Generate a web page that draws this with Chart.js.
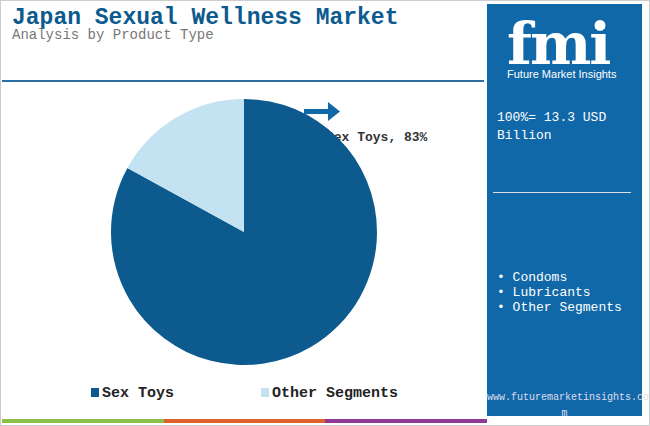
<!DOCTYPE html>
<html><head><meta charset="utf-8">
<script src="https://cdn.jsdelivr.net/npm/chart.js@4"></script>
<style>
body{margin:0;width:650px;height:426px;position:relative;background:#fff;font-family:"Liberation Mono",monospace;overflow:hidden}
.frame{position:absolute;left:0;top:0;width:648px;height:424px;border:1px solid #ccc}
.title{position:absolute;left:12px;top:5px;font-size:23px;font-weight:bold;color:#0c5a8e}
.sub{position:absolute;left:12px;top:27px;font-size:14px;color:#777}
.hr{position:absolute;left:2px;top:80px;width:482px;height:2px;background:#2d6ea3}
.panel{position:absolute;left:487px;top:4px;width:155px;height:412px;background:#1168a8;color:#fff}
.fmi{position:absolute;left:20px;top:6px;font-family:"DejaVu Serif",serif;font-size:58px;font-weight:bold;letter-spacing:-2px}
.fmis{position:absolute;left:20px;top:64px;font-family:"Liberation Sans";font-size:11px}
.p1{position:absolute;left:10px;top:105px;font-size:13px;line-height:18px}
.phr{position:absolute;left:6px;top:188px;width:138px;height:1px;background:#ddd}
.p2{position:absolute;left:10px;top:266px;font-size:13px;line-height:15px}
.url{position:absolute;left:0;top:386px;width:155px;text-align:center;font-size:10px;line-height:16px;color:#dde}
.lbl{position:absolute;left:326px;top:130px;font-size:13px;font-weight:bold;color:#333}
.arrow{position:absolute;left:304px;top:102px}
#wrap{position:absolute;left:104px;top:92px;width:280px;height:280px}
.leg{position:absolute;top:385px;font-size:15px;font-weight:bold;color:#222}
.sw{display:inline-block;width:8px;height:9px;margin-right:3px}
.bar{position:absolute;top:419px;height:4px}
</style></head><body>
<div class="frame"></div>
<div class="title">Japan Sexual Wellness Market</div>
<div class="sub">Analysis by Product Type</div>
<div class="hr"></div>
<div class="lbl">Sex Toys, 83%</div>
<svg class="arrow" width="38" height="20"><rect x="0" y="7" width="26" height="5" fill="#1168a8"/><polygon points="24,0 36,9.5 24,19" fill="#1168a8"/></svg>
<div id="wrap"><canvas id="pie"></canvas></div>
<div class="leg" style="left:91px"><span class="sw" style="background:#0c5a8e"></span>Sex Toys</div>
<div class="leg" style="left:261px"><span class="sw" style="background:#c3e2f2"></span>Other Segments</div>
<div class="bar" style="left:2px;width:162px;background:#8cbf4a"></div>
<div class="bar" style="left:164px;width:161px;background:#e0622a"></div>
<div class="bar" style="left:325px;width:162px;background:#8e3a92"></div>
<div class="panel">
<div class="fmi">fmi</div>
<div class="fmis">Future Market Insights</div>
<div class="p1">100%= 13.3 USD<br>Billion</div>
<div class="phr"></div>
<div class="p2">• Condoms<br>• Lubricants<br>• Other Segments</div>
<div class="url">www.futuremarketinsights.co<br>m</div>
</div>
<script>
const segments = ['Sex Toys', 'Other Segments'];
const shares = [83, 17];
const colors = ['#0c5a8e', '#c3e2f2'];

new Chart(document.getElementById('pie').getContext('2d'), {
    type: 'pie',
    data: {
        labels: segments,
        datasets: [{ data: shares, backgroundColor: colors, borderWidth: 0 }]
    },
    options: {
        responsive: true,
        maintainAspectRatio: false,
        animation: false,
        layout: { padding: 7 },
        plugins: { legend: { display: false }, tooltip: { enabled: false } }
    }
});
</script>
</body></html>
